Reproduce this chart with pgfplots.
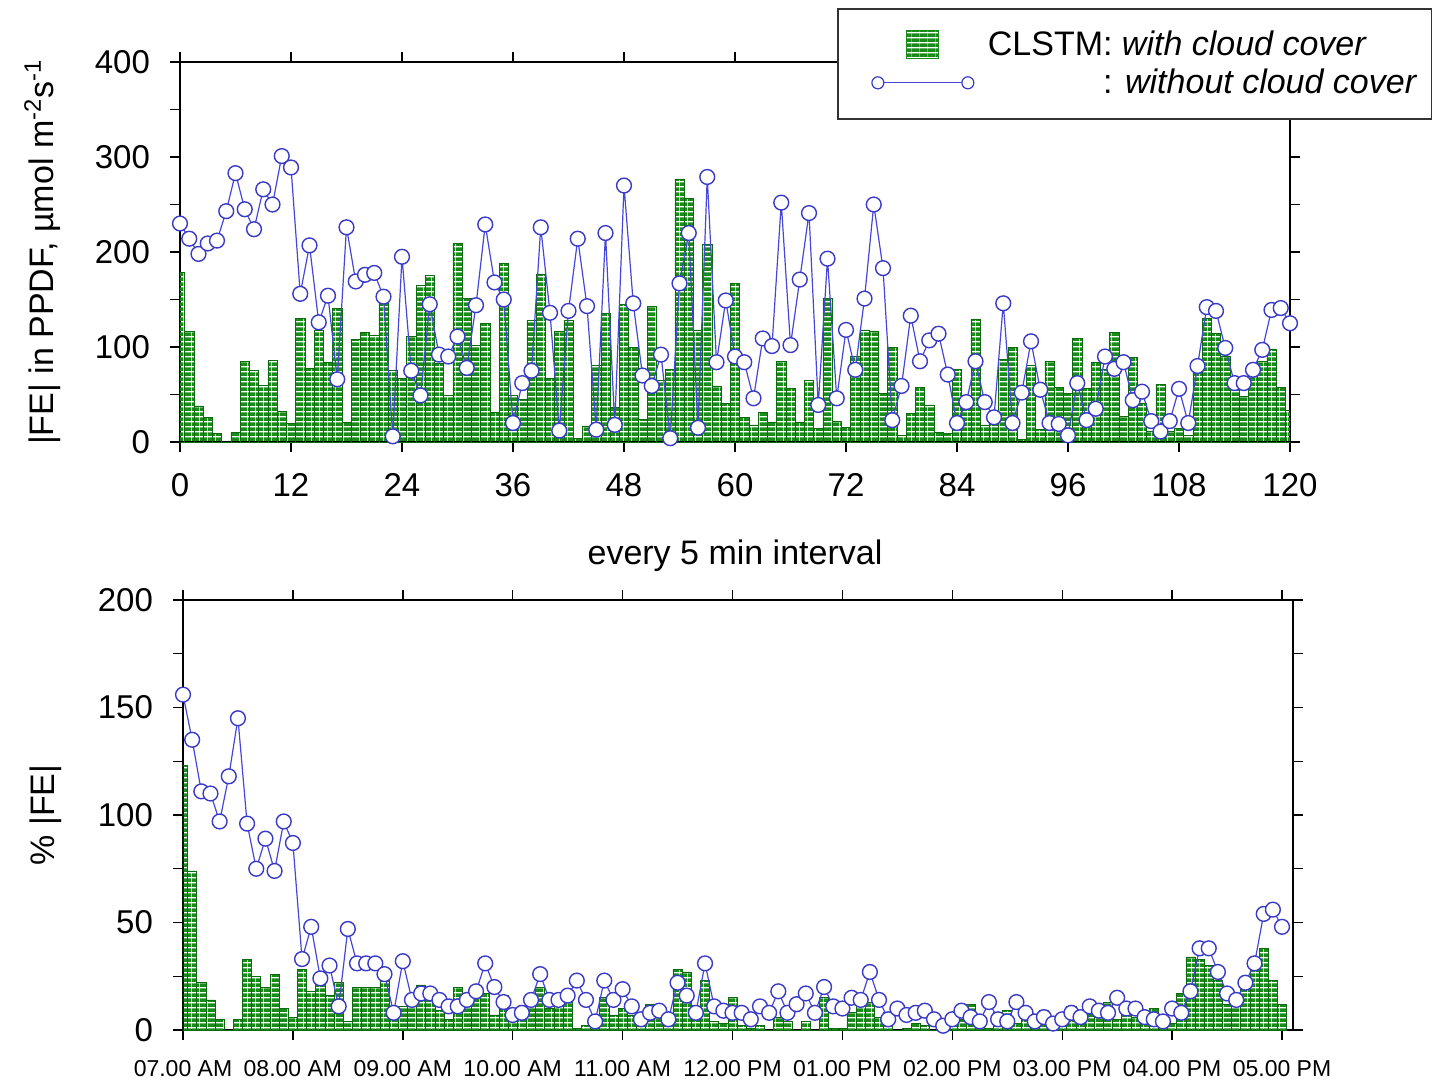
\documentclass[border=0pt]{standalone}
\usepackage{fontspec}
\setmainfont{Liberation Sans}
\usepackage{pgfplots}
\usepackage{pgfplotstable}
\pgfplotsset{compat=1.18}
\usetikzlibrary{patterns.meta}

\definecolor{bargreen}{HTML}{1A8A1A}
\definecolor{baredge}{HTML}{0E6A0E}
\definecolor{lineblue}{HTML}{4646DC}
\definecolor{markblue}{HTML}{3A3AC8}

\tikzdeclarepattern{
  name=hstripes,
  type=uncolored,
  bounding box={(0pt,0pt) and (4pt,2.4pt)},
  tile size={(4pt,2.4pt)},
  code={\fill (-0.2pt,0pt) rectangle (4.2pt,1.85pt);}
}

\newcommand\tfont{\fontsize{16.5}{19}\selectfont}
\newcommand\lfont{\fontsize{17}{20}\selectfont}

% x = 5-min interval, bar = with cloud cover, line = without cloud cover
\pgfplotstableread[row sep=\\]{
x bar line \\
0 179 230 \\ 1 116 214 \\ 2 38 198 \\ 3 26 209 \\ 4 9 212 \\ 5 0 243 \\
6 10 283 \\ 7 85 245 \\ 8 75 224 \\ 9 60 266 \\ 10 86 250 \\ 11 32 301 \\
12 20 289 \\ 13 130 156 \\ 14 78 207 \\ 15 118 126 \\ 16 84 154 \\ 17 141 66 \\
18 21 226 \\ 19 108 169 \\ 20 115 176 \\ 21 112 178 \\ 22 146 153 \\ 23 75 6 \\
24 67 195 \\ 25 111 75 \\ 26 165 49 \\ 27 175 145 \\ 28 83 92 \\ 29 49 90 \\
30 209 111 \\ 31 151 78 \\ 32 102 144 \\ 33 125 229 \\ 34 31 168 \\ 35 188 150 \\
36 49 20 \\ 37 45 62 \\ 38 128 75 \\ 39 177 226 \\ 40 67 136 \\ 41 116 12 \\
42 128 138 \\ 43 4 214 \\ 44 17 143 \\ 45 81 13 \\ 46 135 220 \\ 47 36 18 \\
48 145 270 \\ 49 100 146 \\ 50 24 70 \\ 51 143 59 \\ 52 65 92 \\ 53 76 4 \\
54 277 167 \\ 55 256 220 \\ 56 118 15 \\ 57 208 279 \\ 58 59 84 \\ 59 41 149 \\
60 167 90 \\ 61 26 84 \\ 62 18 46 \\ 63 31 109 \\ 64 21 101 \\ 65 85 252 \\
66 57 102 \\ 67 21 171 \\ 68 65 241 \\ 69 14 39 \\ 70 151 193 \\ 71 22 46 \\
72 15 118 \\ 73 90 76 \\ 74 118 151 \\ 75 117 250 \\ 76 51 183 \\ 77 100 23 \\
78 7 59 \\ 79 30 133 \\ 80 58 85 \\ 81 39 107 \\ 82 10 114 \\ 83 9 71 \\
84 76 20 \\ 85 35 42 \\ 86 129 85 \\ 87 18 42 \\ 88 24 26 \\ 89 87 146 \\
90 100 20 \\ 91 3 52 \\ 92 81 106 \\ 93 13 55 \\ 94 85 20 \\ 95 58 19 \\
96 51 7 \\ 97 109 62 \\ 98 57 23 \\ 99 84 35 \\ 100 76 90 \\ 101 115 77 \\
102 27 84 \\ 103 89 44 \\ 104 41 53 \\ 105 11 22 \\ 106 61 11 \\ 107 11 22 \\
108 14 56 \\ 109 7 20 \\ 110 81 80 \\ 111 130 142 \\ 112 114 138 \\ 113 90 99 \\
114 62 62 \\ 115 48 62 \\ 116 70 76 \\ 117 85 97 \\ 118 98 139 \\ 119 58 141 \\
120 33 125 \\
}\topdata

% percentage |FE|
\pgfplotstableread[row sep=\\]{
x bar line \\
0 123 156 \\ 1 74 135 \\ 2 22 111 \\ 3 14 110 \\ 4 5 97 \\ 5 0 118 \\
6 5 145 \\ 7 33 96 \\ 8 25 75 \\ 9 20 89 \\ 10 26 74 \\ 11 10 97 \\
12 6 87 \\ 13 28 33 \\ 14 18 48 \\ 15 25 24 \\ 16 16 30 \\ 17 22 11 \\
18 4 47 \\ 19 20 31 \\ 20 20 31 \\ 21 20 31 \\ 22 26 26 \\ 23 10 8 \\
24 11 32 \\ 25 15 14 \\ 26 21 17 \\ 27 18 17 \\ 28 9 14 \\ 29 5 11 \\
30 20 11 \\ 31 14 14 \\ 32 15 18 \\ 33 17 31 \\ 34 7 20 \\ 35 16 13 \\
36 5 7 \\ 37 7 8 \\ 38 11 14 \\ 39 20 26 \\ 40 10 14 \\ 41 11 14 \\
42 13 16 \\ 43 1 23 \\ 44 2 14 \\ 45 7 4 \\ 46 15 23 \\ 47 7 14 \\
48 10 19 \\ 49 7 11 \\ 50 2 5 \\ 51 12 8 \\ 52 8 9 \\ 53 4 5 \\
54 28 22 \\ 55 27 16 \\ 56 8 8 \\ 57 23 31 \\ 58 4 11 \\ 59 3 9 \\
60 15 8 \\ 61 2 8 \\ 62 1 5 \\ 63 2 11 \\ 64 0 8 \\ 65 6 18 \\
66 4 8 \\ 67 0 12 \\ 68 4 17 \\ 69 0 8 \\ 70 15 20 \\ 71 1 11 \\
72 1 10 \\ 73 8 15 \\ 74 12 14 \\ 75 13 27 \\ 76 6 14 \\ 77 8 5 \\
78 0 10 \\ 79 1 7 \\ 80 3 8 \\ 81 2 9 \\ 82 0 5 \\ 83 0 2 \\
84 6 5 \\ 85 5 9 \\ 86 12 6 \\ 87 2 4 \\ 88 1 13 \\ 89 8 5 \\
90 9 4 \\ 91 3 13 \\ 92 9 8 \\ 93 2 4 \\ 94 9 6 \\ 95 6 3 \\
96 5 5 \\ 97 11 8 \\ 98 6 6 \\ 99 10 11 \\ 100 10 9 \\ 101 13 8 \\
102 5 15 \\ 103 12 10 \\ 104 6 10 \\ 105 3 6 \\ 106 10 5 \\ 107 2 4 \\
108 3 10 \\ 109 17 8 \\ 110 34 18 \\ 111 33 38 \\ 112 30 38 \\ 113 23 27 \\
114 12 17 \\ 115 12 14 \\ 116 20 22 \\ 117 28 31 \\ 118 38 54 \\ 119 23 56 \\
120 12 48 \\
}\pctdata

\pgfplotsset{
  panel/.style={
    scale only axis,
    axis line style={black, line width=1pt},
    tick style={black, line width=0.7pt},
    tick align=outside,
    xtick pos=both, ytick pos=both,
    major tick length=5pt, minor tick length=5pt,
    tick label style={font=\tfont},
    yticklabel style={xshift=-6.5pt},
    /pgf/number format/assume math mode=true,
    label style={font=\lfont},
    clip=true,
  },
  hbars/.style={
    ybar, bar width=1, bar shift=0pt,
    draw=baredge, line width=0.35pt,
    pattern=hstripes, pattern color=bargreen,
  },
  circles/.style={
    color=lineblue, line width=0.6pt,
    mark=*, mark size=3.7pt,
    mark options={draw=markblue, fill=white, line width=0.7pt, solid},
  },
}

\begin{document}
\begin{tikzpicture}
\useasboundingbox (-90pt,-321pt) rectangle (632pt,221pt);

\begin{axis}[
  panel,
  at={(0pt,0pt)}, anchor=south west,
  width=555pt, height=190pt,
  xmin=0, xmax=120, ymin=0, ymax=400,
  xtick={0,12,...,120},
  xticklabel style={yshift=-7pt},
  ytick={0,100,...,400},
  minor ytick={50,150,250,350},
  xlabel={every 5 min interval},
  xlabel style={at={(axis description cs:0.5,-0.3)}, anchor=center},
  ylabel={|FE| in PPDF, µmol m\textsuperscript{-2}s\textsuperscript{-1}},
  ylabel style={at={(axis description cs:-0.124,0.5)}, anchor=center},
  legend style={at={(axis description cs:0.592,1.142)}, anchor=north west,
    draw=black!80, line width=0.75pt, fill=white, font=\lfont,
    inner xsep=5pt, inner ysep=8.5pt, row sep=0pt,
    legend cell align=left},
]
\addplot[hbars,
  legend image code/.code={
    \pgfpathrectangle{\pgfpoint{-15pt}{-9.5pt}}{\pgfpoint{68pt}{19pt}}
    \pgfusepath{discard}
    \draw[draw=bargreen, line width=0.5pt, pattern=hstripes, pattern color=bargreen]
      (14.5pt,-7pt) rectangle (30.5pt,7pt);}
] table[x=x, y=bar] {\topdata};
\addlegendentry{CLSTM: \textit{with cloud cover}}
\addplot[circles,
  legend image code/.code={
    \pgfpathrectangle{\pgfpoint{-15pt}{-9.5pt}}{\pgfpoint{68pt}{19pt}}
    \pgfusepath{discard}
    \draw[lineblue, line width=0.6pt] (0pt,0pt) -- (45pt,0pt);
    \draw[markblue, line width=0.6pt, fill=white] (0pt,0pt) circle (3pt);
    \draw[markblue, line width=0.6pt, fill=white] (45pt,0pt) circle (3pt);}
] table[x=x, y=line] {\topdata};
\addlegendentry{\phantom{CLSTM}: \textit{without cloud cover}}
\end{axis}

\begin{axis}[
  panel,
  at={(1.5pt,-294pt)}, anchor=south west,
  width=555pt, height=215pt,
  xmin=0, xmax=121.2, ymin=0, ymax=200,
  xtick={0,12,...,120},
  xticklabels={07.00 AM, 08.00 AM, 09.00 AM, 10.00 AM, 11.00 AM, 12.00 PM,
    01.00 PM, 02.00 PM, 03.00 PM, 04.00 PM, 05.00 PM},
  xticklabel style={font=\fontsize{11.5}{14}\selectfont, yshift=-6.5pt},
  ytick={0,50,...,200},
  minor ytick={25,75,125,175},
  ylabel={\% |FE|},
  ylabel style={at={(axis description cs:-0.124,0.5)}, anchor=center},
]
\addplot[hbars] table[x=x, y=bar] {\pctdata};
\addplot[circles] table[x=x, y=line] {\pctdata};
\end{axis}
\end{tikzpicture}
\end{document}
